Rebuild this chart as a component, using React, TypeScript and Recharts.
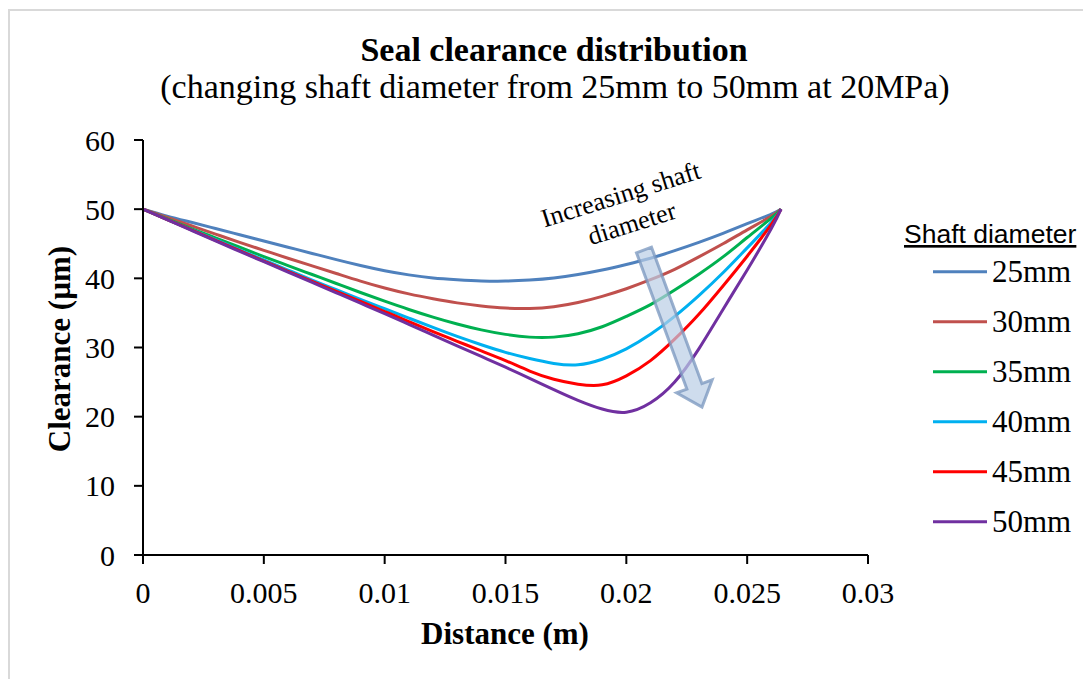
import React from 'react';
import { LineChart, Line, XAxis, YAxis } from 'recharts';

const xValues = [0, 0.001, 0.002, 0.003, 0.004, 0.005, 0.006, 0.007, 0.008, 0.009, 0.01, 0.011, 0.012, 0.013, 0.014, 0.015, 0.016, 0.017, 0.018, 0.019, 0.02, 0.021, 0.022, 0.023, 0.024, 0.025, 0.026, 0.0264];

const d25 = [50, 49.0, 48.1, 47.2, 46.3, 45.4, 44.5, 43.6, 42.7, 41.85, 41.1, 40.5, 40.05, 39.8, 39.63, 39.6, 39.75, 40.05, 40.55, 41.2, 42.0, 42.9, 44.0, 45.2, 46.5, 47.9, 49.3, 50];
const d30 = [50, 48.8, 47.6, 46.4, 45.2, 44.05, 42.9, 41.8, 40.7, 39.6, 38.6, 37.75, 37.05, 36.45, 36.0, 35.7, 35.65, 35.9, 36.5, 37.4, 38.5, 39.8, 41.3, 43.1, 45.0, 47.0, 49.0, 50];
const d35 = [50, 48.6, 47.2, 45.85, 44.5, 43.15, 41.85, 40.55, 39.25, 37.95, 36.7, 35.5, 34.4, 33.4, 32.55, 31.9, 31.5, 31.5, 32.0, 33.0, 34.5, 36.2, 38.3, 40.6, 43.1, 45.9, 48.7, 50];
const d40 = [50, 48.5, 47.05, 45.6, 44.1, 42.65, 41.2, 39.75, 38.35, 36.95, 35.6, 34.25, 32.9, 31.6, 30.4, 29.3, 28.4, 27.7, 27.5, 28.3, 29.8, 31.9, 34.5, 37.5, 40.8, 44.4, 48.1, 50];
const d45 = [50, 48.5, 47.0, 45.5, 44.0, 42.5, 41.0, 39.55, 38.1, 36.65, 35.2, 33.75, 32.3, 30.9, 29.5, 28.1, 26.6, 25.4, 24.7, 24.6, 25.9, 28.1, 31.2, 34.8, 38.9, 43.2, 47.8, 50];
const d50 = [50, 48.5, 46.95, 45.4, 43.9, 42.4, 40.9, 39.4, 37.9, 36.4, 34.9, 33.35, 31.8, 30.25, 28.7, 27.15, 25.55, 23.9, 22.35, 21.1, 20.65, 22.0, 25.0, 29.8, 35.5, 41.2, 47.2, 50];

const seriesNames = ['25mm', '30mm', '35mm', '40mm', '45mm', '50mm'];
const seriesKeys = ['d25', 'd30', 'd35', 'd40', 'd45', 'd50'];
const seriesColors = ['#4F81BD', '#C0504D', '#00B050', '#00B0F0', '#FF0000', '#7030A0'];
const seriesValues = [d25, d30, d35, d40, d45, d50];

const xTicks = [0, 0.005, 0.01, 0.015, 0.02, 0.025, 0.03];
const yTicks = [0, 10, 20, 30, 40, 50, 60];

const data = xValues.map((x, i) => {
  const row: Record<string, number> = { x };
  seriesKeys.forEach((k, s) => {
    row[k] = seriesValues[s][i];
  });
  return row;
});

const SERIF = '"Liberation Serif", "Times New Roman", serif';
const SANS = '"Liberation Sans", Arial, sans-serif';

export default function App() {
  // annotation arrow geometry (page coordinates)
  const S = [644, 250];
  const T = [702, 407];
  const dx = T[0] - S[0];
  const dy = T[1] - S[1];
  const len = Math.sqrt(dx * dx + dy * dy);
  const u = [dx / len, dy / len];
  const n = [u[1], -u[0]];
  const headLen = 22;
  const shaftHalf = 8;
  const headHalf = 19;
  const B = [T[0] - headLen * u[0], T[1] - headLen * u[1]];
  const pts = [
    [S[0] + shaftHalf * n[0], S[1] + shaftHalf * n[1]],
    [B[0] + shaftHalf * n[0], B[1] + shaftHalf * n[1]],
    [B[0] + headHalf * n[0], B[1] + headHalf * n[1]],
    T,
    [B[0] - headHalf * n[0], B[1] - headHalf * n[1]],
    [B[0] - shaftHalf * n[0], B[1] - shaftHalf * n[1]],
    [S[0] - shaftHalf * n[0], S[1] - shaftHalf * n[1]],
  ]
    .map((p) => `${p[0].toFixed(1)},${p[1].toFixed(1)}`)
    .join(' ');

  return (
    <div style={{ position: 'relative', width: 1083, height: 671, overflow: 'hidden', background: '#fff' }}>
      <div
        style={{
          position: 'absolute',
          left: 0,
          top: 1,
          width: 1200,
          height: 800,
          borderLeft: '2px solid #d9d9d9',
          borderTop: '2px solid #d9d9d9',
        }}
      />
      <div style={{ position: 'absolute', left: 0, top: 0 }}>
        <LineChart
          width={1083}
          height={671}
          data={data}
          margin={{ top: 132, right: 223, bottom: 64, left: 35 }}
        >
          <XAxis
            type="number"
            dataKey="x"
            domain={[0, 0.03]}
            ticks={xTicks}
            interval={0}
            height={60}
            axisLine={{ stroke: '#000', strokeWidth: 2 }}
            tickLine={{ stroke: '#000', strokeWidth: 2 }}
            tickSize={9}
            tickMargin={18}
            tick={{ fontFamily: SERIF, fontSize: 30, fill: '#000' }}
            allowDataOverflow
          />
          <YAxis
            type="number"
            domain={[0, 60]}
            ticks={yTicks}
            interval={0}
            width={100}
            axisLine={{ stroke: '#000', strokeWidth: 2 }}
            tickLine={{ stroke: '#000', strokeWidth: 2 }}
            tickSize={9}
            tickMargin={19}
            tick={{ fontFamily: SERIF, fontSize: 30, fill: '#000' }}
          />
          {seriesKeys.map((k, i) => (
            <Line
              key={k}
              type="natural"
              dataKey={k}
              name={seriesNames[i]}
              stroke={seriesColors[i]}
              strokeWidth={3}
              dot={false}
              activeDot={false}
              isAnimationActive={false}
            />
          ))}
        </LineChart>
      </div>
      <svg
        width={1091}
        height={679}
        style={{ position: 'absolute', left: -8, top: -8, pointerEvents: 'none' }}
      >
        <text x={554} y={61} textAnchor="middle" fontFamily={SERIF} fontWeight="bold" fontSize={34} fill="#000">
          Seal clearance distribution
        </text>
        <text x={555} y={98} textAnchor="middle" fontFamily={SERIF} fontSize={34} fill="#000">
          (changing shaft diameter from 25mm to 50mm at 20MPa)
        </text>
        <text x={505} y={644} textAnchor="middle" fontFamily={SERIF} fontWeight="bold" fontSize={31} fill="#000">
          Distance (m)
        </text>
        <text
          x={70}
          y={349}
          textAnchor="middle"
          fontFamily={SERIF}
          fontWeight="bold"
          fontSize={31}
          fill="#000"
          transform="rotate(-90, 70, 349)"
        >
          Clearance (µm)
        </text>

        {/* annotation */}
        <text
          x={621}
          y={203}
          textAnchor="middle"
          fontFamily={SERIF}
          fontSize={26}
          fill="#000"
          transform="rotate(-17.5, 621, 195)"
        >
          Increasing shaft
        </text>
        <text
          x={632}
          y={232}
          textAnchor="middle"
          fontFamily={SERIF}
          fontSize={26}
          fill="#000"
          transform="rotate(-17.5, 632, 224)"
        >
          diameter
        </text>
        <polygon
          points={pts}
          fill="rgba(185,205,229,0.7)"
          stroke="rgba(120,150,190,0.75)"
          strokeWidth={3}
          strokeLinejoin="miter"
        />

        {/* legend */}
        <text x={904} y={243} fontFamily={SANS} fontSize={26.5} fill="#000" textDecoration="underline">
          Shaft diameter
        </text>
        {seriesNames.map((name, i) => {
          const cy = 271.7 + i * 50;
          return (
            <g key={name}>
              <line x1={933} x2={987} y1={cy} y2={cy} stroke={seriesColors[i]} strokeWidth={3} />
              <text x={992} y={cy + 10} fontFamily={SERIF} fontSize={31} fill="#000">
                {name}
              </text>
            </g>
          );
        })}
      </svg>
    </div>
  );
}
